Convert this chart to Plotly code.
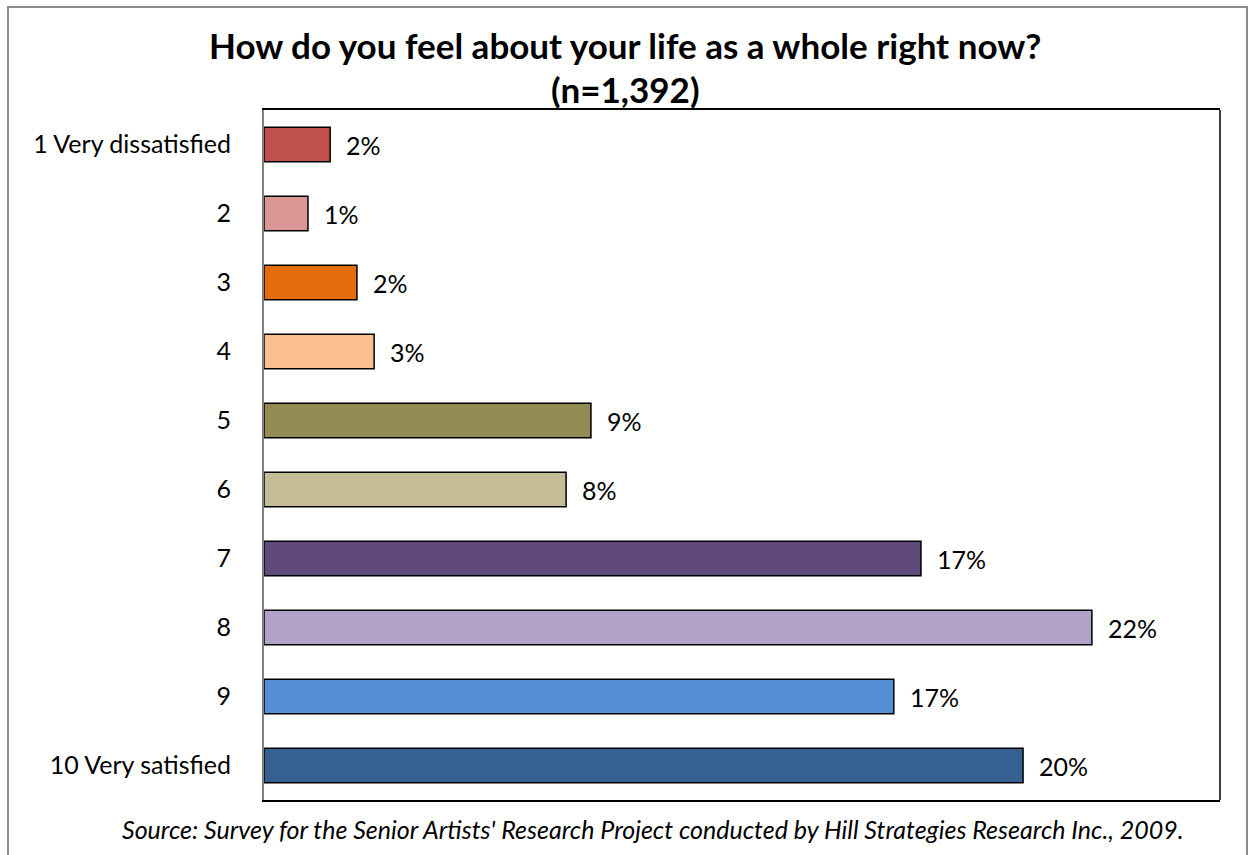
import plotly.graph_objects as go

categories = ["1 Very dissatisfied", "2", "3", "4", "5", "6", "7", "8", "9", "10 Very satisfied"]
values = [0.0173, 0.0115, 0.0243, 0.0288, 0.0855, 0.079, 0.1718, 0.2165, 0.1647, 0.1985]
labels = ["2%", "1%", "2%", "3%", "9%", "8%", "17%", "22%", "17%", "20%"]
colors = ["#C0504D", "#D99694", "#E46C0A", "#FAC090", "#948A54",
          "#C4BD97", "#604A7B", "#B3A2C7", "#558ED5", "#376092"]

FONT = "Lato, Open Sans, sans-serif"
W, H = 1254, 855
L, R, T, B = 264, 34, 110, 55
pw = W - L - R
ph = H - T - B

fig = go.Figure()
fig.add_trace(go.Bar(
    x=values, y=categories, orientation="h",
    marker=dict(color=colors, line=dict(color="black", width=1.5)),
    width=0.5, hoverinfo="skip",
))

for i, (v, t) in enumerate(zip(values, labels)):
    fig.add_annotation(x=v, y=i, text=t, showarrow=False, xanchor="left",
                       xshift=14, font=dict(family=FONT, size=25, color="black"))

fig.add_annotation(xref="paper", yref="paper", x=(625 - L) / pw, y=1 + (110 - 45) / ph,
                   text="<b>How do you feel about your life as a whole right now?</b>",
                   showarrow=False, xanchor="center", yanchor="middle",
                   font=dict(family=FONT, size=35, color="black"))
fig.add_annotation(xref="paper", yref="paper", x=(625 - L) / pw, y=1 + (110 - 89) / ph,
                   text="<b>(n=1,392)</b>",
                   showarrow=False, xanchor="center", yanchor="middle",
                   font=dict(family=FONT, size=35, color="black"))
fig.add_annotation(xref="paper", yref="paper", x=(653 - L) / pw, y=-(829 - (H - B)) / ph,
                   text="<i>Source: Survey for the Senior Artists' Research Project conducted by Hill Strategies Research Inc., 2009.</i>",
                   showarrow=False, xanchor="center", yanchor="middle",
                   font=dict(family=FONT, size=25, color="black"))

# right border of plot area
fig.add_shape(type="line", xref="paper", yref="paper", x0=1, x1=1, y0=0, y1=1,
              line=dict(color="black", width=1.5))
# outer chart border
fig.add_shape(type="rect", xref="paper", yref="paper",
              x0=(8 - L) / pw, x1=(1247 - L) / pw,
              y0=-(870 - (H - B)) / ph, y1=1 + (T - 7) / ph,
              line=dict(color="#8c8c8c", width=2), layer="below")

fig.update_layout(
    width=W, height=H,
    margin=dict(l=L, r=R, t=T, b=B),
    paper_bgcolor="white", plot_bgcolor="white",
    showlegend=False,
    font=dict(family=FONT, size=25, color="black"),
    xaxis=dict(range=[0, 0.25], showticklabels=False, ticks="", showgrid=False,
               zeroline=False, showline=True, mirror=True, linecolor="black", linewidth=1.5),
    yaxis=dict(autorange="reversed", showgrid=False, zeroline=False, ticks="",
               showline=True, linecolor="#808080", linewidth=2, ticklabelstandoff=26,
               tickfont=dict(family=FONT, size=25, color="black")),
)

fig.write_html("out.html")
